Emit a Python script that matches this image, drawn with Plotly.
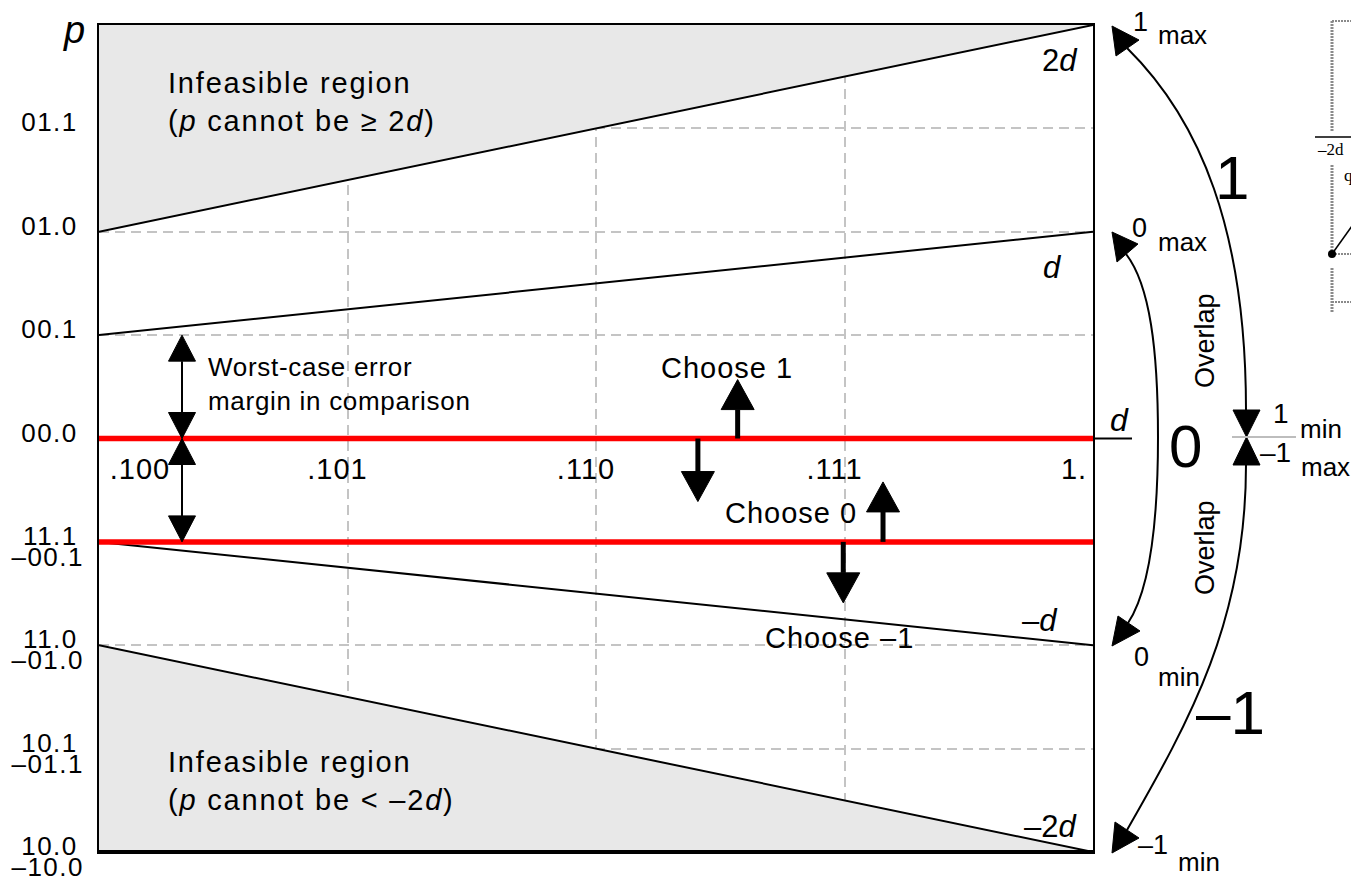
import plotly.graph_objects as go

# ---------------- data ----------------
x_ticks = [0, 1, 2, 3, 4]
x_tick_text = [".100", ".101", ".110", ".111", "1."]
y_ticks = [3, 2, 1, 0, -1, -2, -3, -4]
y_tick_text = ["01.1", "01.0", "00.1", "00.0", "11.1", "11.0", "10.1", "10.0"]
y_neg_ticks = [-1, -2, -3, -4]
y_neg_text = ["–00.1", "–01.0", "–01.1", "–10.0"]

x_range = [0, 4]
y_range = [-4, 4]
bound_x = [0, 4]
bound_2d = [2, 4]
bound_d = [1, 2]
bound_neg_d = [-1, -2]
bound_neg_2d = [-2, -4]
thresholds = [0, -1]

# "Choose" decision arrows: x position, start level, tip level
choose_x = [2.57, 2.41, 3.155, 2.995]
choose_from = [0, 0, -1, -1]
choose_tip = [0.57, -0.61, -0.42, -1.59]
# worst-case error margin double arrows
margin_x = 0.334
margin_levels = [1, 0, -1]

# ---------------- geometry helpers ----------------
W, H = 1351, 878
ML, MR, MT, MB = 99, 258, 25, 26
PW, PH = W - ML - MR, H - MT - MB
XS = PW / (x_range[1] - x_range[0])
YS = PH / (y_range[1] - y_range[0])
FONT = "Liberation Sans, Arial, sans-serif"
SERIF = "Liberation Serif, Times New Roman, serif"
GRID = "#c4c4c4"
SHADE = "#e8e8e8"


def fx(px):
    return (px - ML) / PW


def fy(py):
    return (H - MB - py) / PH


def dxp(px):
    return x_range[0] + (px - ML) / XS


def dyp(py):
    return y_range[1] - (py - MT) / YS


def sp(text, ls):
    return f'<span style="letter-spacing:{ls}px">{text}</span>' if ls else text


fig = go.Figure()

# shaded infeasible regions
fig.add_trace(go.Scatter(x=[bound_x[0], bound_x[1], bound_x[0]],
                         y=[bound_2d[0], bound_2d[1], y_range[1]],
                         fill="toself", fillcolor=SHADE, mode="lines",
                         line=dict(width=0), hoverinfo="skip", showlegend=False))
fig.add_trace(go.Scatter(x=[bound_x[0], bound_x[1], bound_x[0]],
                         y=[bound_neg_2d[0], bound_neg_2d[1], y_range[0]],
                         fill="toself", fillcolor=SHADE, mode="lines",
                         line=dict(width=0), hoverinfo="skip", showlegend=False))
# boundary lines
for ys in [bound_2d, bound_d, bound_neg_d, bound_neg_2d]:
    fig.add_trace(go.Scatter(x=bound_x, y=ys, mode="lines",
                             line=dict(color="black", width=2),
                             hoverinfo="skip", showlegend=False))
# red comparison thresholds
for t in thresholds:
    fig.add_trace(go.Scatter(x=x_range, y=[t, t], mode="lines",
                             line=dict(color="#ff0000", width=5.5),
                             hoverinfo="skip", showlegend=False))
# dummy traces so overlay label axes exist
for xa, ya in [("x2", "y"), ("x3", "y"), ("x4", "y"), ("x", "y2")]:
    fig.add_trace(go.Scatter(x=[None], y=[None], xaxis=xa, yaxis=ya, mode="markers",
                             hoverinfo="skip", showlegend=False))

shapes = []


def tri_data(x, tip, base, hw):
    return dict(type="path", xref="x", yref="y",
                path=f"M {x - hw},{base} L {x + hw},{base} L {x},{tip} Z",
                fillcolor="black", line=dict(color="black", width=1))


def v_arrow(x, y0, y1, shaft, hl_px, hw_px, double=False):
    d = 1 if y1 > y0 else -1
    hl = hl_px / YS
    hw = hw_px / XS
    base1 = y1 - d * hl
    start = y0 + d * hl if double else y0
    shapes.append(dict(type="line", xref="x", yref="y", x0=x, x1=x, y0=start, y1=base1,
                       line=dict(color="black", width=shaft)))
    shapes.append(tri_data(x, y1, base1, hw))
    if double:
        shapes.append(tri_data(x, y0, start, hw))


for x, a, b in zip(choose_x, choose_from, choose_tip):
    v_arrow(x, a, b, 5, 30, 16.5)
for a, b in zip(margin_levels[:-1], margin_levels[1:]):
    v_arrow(margin_x, a, b, 2, 26, 13.5, double=True)


def ppath(points, closed=False):
    s = ""
    for cmd, pts in points:
        s += cmd + " " + " ".join(f"{fx(px):.5f},{fy(py):.5f}" for px, py in pts) + " "
    return s + ("Z" if closed else "")


def pline(x0, y0, x1, y1, color="black", width=2, dash=None):
    ln = dict(color=color, width=width)
    if dash:
        ln["dash"] = dash
    shapes.append(dict(type="line", xref="paper", yref="paper",
                       x0=fx(x0), y0=fy(y0), x1=fx(x1), y1=fy(y1), line=ln))


def ptri(p1, p2, p3):
    shapes.append(dict(type="path", xref="paper", yref="paper",
                       path=ppath([("M", [p1]), ("L", [p2]), ("L", [p3])], closed=True),
                       fillcolor="black", line=dict(color="black", width=1)))


def pcurve(segs):
    shapes.append(dict(type="path", xref="paper", yref="paper", path=ppath(segs),
                       line=dict(color="black", width=2)))


# x-axis extension and thicker bottom frame
pline(1093, 438.5, 1132, 438.5)
shapes.append(dict(type="line", xref="paper", yref="paper", x0=0, x1=1, y0=fy(851.5), y1=fy(851.5),
                   line=dict(color="black", width=3)))
# range arrows on the right
pcurve([("M", [(1246, 410)]), ("C", [(1246, 230), (1200, 120), (1127, 48)])])
pcurve([("M", [(1246, 465)]), ("C", [(1246, 620), (1190, 720), (1127, 830)])])
pcurve([("M", [(1126, 254)]), ("C", [(1150, 285), (1158, 350), (1158, 437)]),
        ("C", [(1158, 525), (1150, 590), (1128, 623)])])
ptri((1112, 26), (1139, 40), (1116, 56))
ptri((1112, 232), (1138, 244), (1117, 262))
ptri((1118, 616), (1140, 631), (1112, 646))
ptri((1115, 822), (1139, 838), (1112, 853))
ptri((1233, 410), (1260, 410), (1246.5, 437))
ptri((1233, 465), (1260, 465), (1246.5, 437))
pline(1232, 437, 1296, 437, color="#bdbdbd", width=2)
# clipped inset at the top-right
DOT = "#8a8a8a"
pline(1332, 21, 1332, 132, color=DOT, width=3, dash="2px,1px")
pline(1332, 165, 1332, 254, color=DOT, width=3, dash="2px,1px")
pline(1332, 268, 1332, 312, color=DOT, width=3, dash="2px,1px")
pline(1332, 21, 1360, 21, color=DOT, width=2, dash="2px,1px")
pline(1332, 254, 1360, 254, color=DOT, width=2, dash="2px,1px")
pline(1332, 302, 1360, 302, color=DOT, width=2, dash="2px,1px")
pline(1315, 137, 1360, 137, color="black", width=1.5)
pline(1332, 254, 1352, 226, color="black", width=1.5)
shapes.append(dict(type="circle", xref="paper", yref="paper",
                   x0=fx(1328), x1=fx(1336), y0=fy(258), y1=fy(250),
                   fillcolor="black", line=dict(color="black", width=0)))

annotations = []


def ann_d(text, px, py, size, xanchor="center", ls=0, align="center"):
    annotations.append(dict(text=sp(text, ls), x=dxp(px), y=dyp(py), xref="x", yref="y",
                            xanchor=xanchor, yanchor="middle", showarrow=False, align=align,
                            font=dict(family=FONT, size=size, color="black")))


def ann_p(text, px, py, size, xanchor="center", ls=0, angle=0, family=FONT):
    annotations.append(dict(text=sp(text, ls), x=fx(px), y=fy(py), xref="paper", yref="paper",
                            xanchor=xanchor, yanchor="middle", showarrow=False, textangle=angle,
                            font=dict(family=family, size=size, color="black")))


ann_d("Infeasible region<br>(<i>p</i> cannot be ≥ 2<i>d</i>)", 166, 102, 29, xanchor="left", ls=1.8, align="left")
ann_d("Infeasible region<br>(<i>p</i> cannot be &lt; –2<i>d</i>)", 166, 781, 29, xanchor="left", ls=1.8, align="left")
ann_d("Worst-case error<br>margin in comparison", 206, 384, 26, xanchor="left", ls=0.7, align="left")
ann_d("Choose 1", 727, 368, 29, ls=1)
ann_d("Choose 0", 791, 513, 29, ls=1)
ann_d("Choose –1", 839, 638, 29, ls=1)
ann_d("2<i>d</i>", 1060, 60, 31)
ann_d("<i>d</i>", 1052, 267, 31)
ann_d("–<i>d</i>", 1040, 620, 31)
ann_d("–2<i>d</i>", 1050, 826, 31)

ann_p("<i>p</i>", 74, 30, 38)
ann_p("<i>d</i>", 1119, 420, 32)
ann_p("1", 1140, 22, 27)
ann_p("max", 1182, 35, 26)
ann_p("0", 1139, 228, 27)
ann_p("max", 1182, 242, 26)
ann_p("1", 1232, 178, 62)
ann_p("Overlap", 1205, 341, 27, angle=-90)
ann_p("Overlap", 1205, 548, 27, angle=-90)
ann_p("0", 1185, 446, 60)
ann_p("1", 1281, 413, 28)
ann_p("min", 1321, 429, 26)
ann_p("–1", 1275, 453, 28)
ann_p("max", 1325, 467, 26)
ann_p("0", 1141, 657, 27)
ann_p("min", 1179, 677, 26)
ann_p("–1", 1230, 712, 62)
ann_p("–1", 1153, 845, 27)
ann_p("min", 1199, 862, 26)
ann_p("–2d", 1330, 149, 17, family=SERIF)
ann_p("q", 1348, 175, 17, family=SERIF)

tick_font_y = dict(family=FONT, size=26, color="black")
tick_font_x = dict(family=FONT, size=29, color="black")

label_x_axis = dict(overlaying="x", anchor="free", position=0.5, side="bottom", range=x_range,
                    showgrid=False, zeroline=False, showline=False, ticks="",
                    ticklabelstandoff=10, tickfont=tick_font_x, fixedrange=True, automargin=False)

fig.update_layout(
    width=W, height=H,
    margin=dict(l=ML, r=MR, t=MT, b=MB, pad=0, autoexpand=False),
    paper_bgcolor="white", plot_bgcolor="white",
    showlegend=False,
    xaxis=dict(range=x_range, tickvals=x_ticks[1:4], showticklabels=False, ticks="",
               showgrid=True, gridcolor=GRID, gridwidth=2, griddash="10px,6px",
               showline=True, linecolor="black", linewidth=2, mirror=True,
               zeroline=False, fixedrange=True, automargin=False),
    xaxis2=dict(label_x_axis, tickvals=x_ticks[1:4], ticktext=[sp(t, 1) for t in x_tick_text[1:4]],
                ticklabelshift=-10),
    xaxis3=dict(label_x_axis, tickvals=x_ticks[:1], ticktext=[sp(t, 1) for t in x_tick_text[:1]],
                ticklabelshift=41),
    xaxis4=dict(label_x_axis, tickvals=x_ticks[4:], ticktext=[sp(t, 1) for t in x_tick_text[4:]],
                ticklabelshift=-19),
    yaxis=dict(range=y_range, tickvals=y_ticks, ticktext=[sp(t, 1.5) for t in y_tick_text],
               showgrid=True, gridcolor=GRID, gridwidth=2, griddash="10px,6px",
               showline=True, linecolor="black", linewidth=2, mirror=True,
               zeroline=False, ticks="", ticklabelshift=-6, ticklabelstandoff=14,
               tickfont=tick_font_y, fixedrange=True, automargin=False),
    yaxis2=dict(overlaying="y", anchor="x", side="left", range=y_range,
                tickvals=y_neg_ticks, ticktext=[sp(t, 1.5) for t in y_neg_text],
                showgrid=False, zeroline=False, showline=False, ticks="",
                ticklabelshift=15, ticklabelstandoff=14, ticklabeloverflow="allow",
                tickfont=tick_font_y, fixedrange=True, automargin=False),
    shapes=shapes,
    annotations=annotations,
)

fig.write_html("out.html", config={"displayModeBar": False},
               post_script="document.body.style.margin='0';document.body.style.overflow='hidden';")
